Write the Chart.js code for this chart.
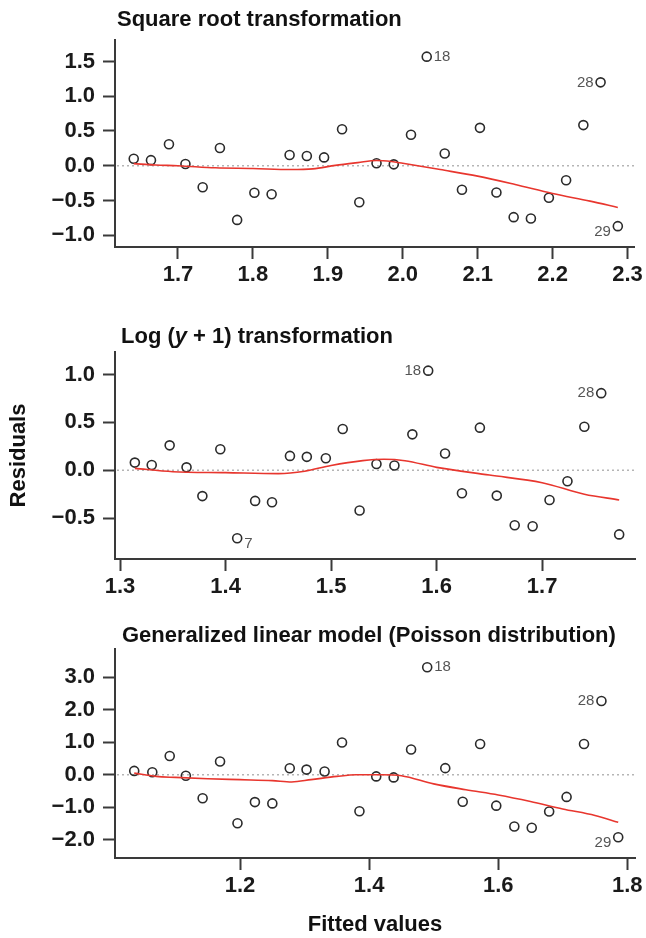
<!DOCTYPE html>
<html>
<head>
<meta charset="utf-8">
<script src="https://cdn.jsdelivr.net/npm/chart.js@4.4.1/dist/chart.umd.min.js"></script>
<style>
  body { margin: 0; background: #fff; }
  .panel { position: absolute; left: 0; width: 646px; }
</style>
</head>
<body>
<div class="panel" style="top:0;height:300px"><canvas id="sqrtChart"></canvas></div>
<div class="panel" style="top:300px;height:310px"><canvas id="logChart"></canvas></div>
<div class="panel" style="top:610px;height:328px"><canvas id="glmChart"></canvas></div>
<script>
const sqrtFitted = [1.641, 1.664, 1.688, 1.710, 1.733, 1.756, 1.779, 1.802, 1.825, 1.849, 1.872, 1.895, 1.919, 1.942, 1.965, 1.988, 2.011, 2.032, 2.056, 2.079, 2.103, 2.125, 2.148, 2.171, 2.195, 2.218, 2.241, 2.264, 2.287];
const sqrtResid = [0.10, 0.08, 0.31, 0.025, -0.31, 0.255, -0.78, -0.39, -0.41, 0.155, 0.14, 0.12, 0.525, -0.525, 0.035, 0.02, 0.445, 1.57, 0.175, -0.345, 0.545, -0.385, -0.74, -0.76, -0.46, -0.21, 0.585, 1.20, -0.87];
const sqrtSmoothX = [1.641, 1.67, 1.70, 1.75, 1.80, 1.85, 1.88, 1.91, 1.94, 1.965, 1.985, 2.00, 2.02, 2.05, 2.10, 2.15, 2.20, 2.25, 2.287];
const sqrtSmoothY = [0.03, 0.01, 0.0, -0.03, -0.04, -0.055, -0.045, 0.005, 0.045, 0.075, 0.06, 0.035, 0.0, -0.055, -0.15, -0.27, -0.40, -0.51, -0.60];
const sqrtXTicks = [1.7, 1.8, 1.9, 2.0, 2.1, 2.2, 2.3];
const sqrtYTicks = [-1.0, -0.5, 0.0, 0.5, 1.0, 1.5];
const sqrtFlagged = [18, 28, 29];

const logFitted = [1.314, 1.330, 1.347, 1.363, 1.378, 1.395, 1.411, 1.428, 1.444, 1.461, 1.477, 1.495, 1.511, 1.527, 1.543, 1.560, 1.577, 1.592, 1.608, 1.624, 1.641, 1.657, 1.674, 1.691, 1.707, 1.724, 1.740, 1.756, 1.773];
const logResid = [0.08, 0.055, 0.26, 0.03, -0.27, 0.22, -0.71, -0.32, -0.335, 0.15, 0.14, 0.125, 0.43, -0.42, 0.065, 0.05, 0.375, 1.04, 0.175, -0.24, 0.445, -0.265, -0.575, -0.585, -0.31, -0.115, 0.455, 0.805, -0.67];
const logSmoothX = [1.314, 1.35, 1.40, 1.45, 1.475, 1.50, 1.53, 1.55, 1.57, 1.60, 1.65, 1.70, 1.74, 1.773];
const logSmoothY = [0.02, -0.015, -0.025, -0.035, -0.01, 0.05, 0.10, 0.115, 0.10, 0.03, -0.05, -0.13, -0.25, -0.31];
const logXTicks = [1.3, 1.4, 1.5, 1.6, 1.7];
const logYTicks = [-0.5, 0.0, 0.5, 1.0];
const logFlagged = [7, 18, 28];

const glmFitted = [1.036, 1.064, 1.091, 1.116, 1.142, 1.169, 1.196, 1.223, 1.250, 1.277, 1.303, 1.331, 1.358, 1.385, 1.411, 1.438, 1.465, 1.490, 1.518, 1.545, 1.572, 1.597, 1.625, 1.652, 1.679, 1.706, 1.733, 1.760, 1.786];
const glmResid = [0.12, 0.08, 0.58, -0.03, -0.72, 0.41, -1.49, -0.84, -0.88, 0.20, 0.16, 0.10, 0.995, -1.12, -0.05, -0.08, 0.78, 3.31, 0.205, -0.83, 0.945, -0.95, -1.59, -1.63, -1.13, -0.68, 0.945, 2.27, -1.92];
const glmSmoothX = [1.036, 1.07, 1.10, 1.15, 1.20, 1.25, 1.28, 1.31, 1.35, 1.38, 1.42, 1.45, 1.50, 1.55, 1.60, 1.65, 1.70, 1.75, 1.786];
const glmSmoothY = [0.05, -0.05, -0.08, -0.12, -0.15, -0.18, -0.22, -0.15, -0.05, 0.0, 0.0, -0.03, -0.28, -0.46, -0.62, -0.82, -1.05, -1.25, -1.46];
const glmXTicks = [1.2, 1.4, 1.6, 1.8];
const glmYTicks = [-2.0, -1.0, 0.0, 1.0, 2.0, 3.0];
const glmFlagged = [18, 28, 29];

const FONT = "'Liberation Sans', Arial, Helvetica, sans-serif";
const axisColor = '#3a3a3a';
Chart.defaults.font.family = FONT;

function fmt(v) {
  return (v < 0 ? '\u2212' : '') + Math.abs(v).toFixed(1);
}

// bold panel heading, may contain italic parts
const panelTitle = {
  id: 'panelTitle',
  afterDraw(chart, args, opts) {
    const ctx = chart.ctx;
    let x = chart.chartArea.left + opts.dx;
    ctx.save();
    ctx.fillStyle = '#111';
    ctx.textBaseline = 'middle';
    ctx.textAlign = 'left';
    opts.parts.forEach(p => {
      ctx.font = (p.italic ? 'italic ' : '') + 'bold 22px ' + FONT;
      ctx.fillText(p.text, x, opts.y);
      x += ctx.measureText(p.text).width;
    });
    ctx.restore();
  }
};

// dotted reference line at residual = 0
const zeroLine = {
  id: 'zeroLine',
  beforeDatasetsDraw(chart) {
    const { ctx, chartArea, scales } = chart;
    const y = scales.y.getPixelForValue(0);
    ctx.save();
    ctx.strokeStyle = '#b5b5b5';
    ctx.lineWidth = 1.5;
    ctx.setLineDash([2, 3]);
    ctx.beginPath();
    ctx.moveTo(chartArea.left + 2, y);
    ctx.lineTo(chartArea.right, y);
    ctx.stroke();
    ctx.restore();
  }
};

// observation numbers next to the flagged points
const obsLabels = {
  id: 'obsLabels',
  afterDatasetsDraw(chart, args, opts) {
    const ctx = chart.ctx;
    const meta = chart.getDatasetMeta(1);
    ctx.save();
    ctx.font = '15px ' + FONT;
    ctx.fillStyle = '#555';
    ctx.textBaseline = 'middle';
    opts.ids.forEach(id => {
      const pt = meta.data[id - 1];
      const side = opts.sides[id];
      const left = side.startsWith('left');
      const dy = side.endsWith('Below') ? 6 : 0;
      ctx.textAlign = left ? 'right' : 'left';
      ctx.fillText(String(id), pt.x + (left ? -7 : 7), pt.y + dy);
    });
    ctx.restore();
  }
};

function makePanel(id, p) {
  const points = p.fitted.map((x, i) => ({ x: x, y: p.resid[i] }));
  const smooth = p.smoothX.map((x, i) => ({ x: x, y: p.smoothY[i] }));
  const tickFont = { size: 22, weight: 'bold' };
  return new Chart(document.getElementById(id), {
    type: 'scatter',
    data: {
      datasets: [{
        data: smooth,
        showLine: true,
        borderColor: '#e8362e',
        borderWidth: 1.6,
        pointRadius: 0,
        cubicInterpolationMode: 'monotone',
        order: 0
      }, {
        data: points,
        pointStyle: 'circle',
        pointRadius: 4.5,
        pointBorderWidth: 1.6,
        pointBorderColor: '#2b2b2b',
        pointBackgroundColor: 'rgba(0,0,0,0)',
        order: 1
      }]
    },
    plugins: [zeroLine, obsLabels, panelTitle],
    options: {
      responsive: true,
      maintainAspectRatio: false,
      animation: false,
      events: [],
      layout: { padding: { top: p.padTop, bottom: p.padBottom, left: 0, right: 11 } },
      plugins: {
        legend: { display: false },
        tooltip: { enabled: false },
        panelTitle: { parts: p.title, dx: p.titleDx, y: p.titleY },
        obsLabels: { ids: p.flagged, sides: p.sides }
      },
      scales: {
        x: {
          type: 'linear',
          min: p.xMin,
          max: p.xMax,
          bounds: 'data',
          afterBuildTicks: s => { s.ticks = p.xTicks.map(v => ({ value: v })); },
          afterFit: s => { s.height = p.xHeight; },
          ticks: { callback: v => fmt(v), font: tickFont, color: '#1a1a1a', padding: 3, maxRotation: 0, autoSkip: false },
          grid: { drawOnChartArea: false, tickLength: 12, tickWidth: 2, tickColor: axisColor, color: axisColor },
          border: { color: axisColor, width: 2 },
          title: p.xTitle ? { display: true, text: p.xTitle, font: tickFont, color: '#111', padding: { top: 0, bottom: 0 } } : { display: false }
        },
        y: {
          type: 'linear',
          min: p.yMin,
          max: p.yMax,
          bounds: 'data',
          afterBuildTicks: s => { s.ticks = p.yTicks.map(v => ({ value: v })); },
          afterFit: s => { s.width = 115; },
          ticks: { callback: v => fmt(v), font: tickFont, color: '#1a1a1a', padding: 8, autoSkip: false },
          grid: { drawOnChartArea: false, tickLength: 12, tickWidth: 2, tickColor: axisColor, color: axisColor },
          border: { color: axisColor, width: 2 },
          title: p.yTitle ? { display: true, text: p.yTitle, font: tickFont, color: '#111', padding: { top: 6, bottom: 0 } } : { display: false }
        }
      }
    }
  });
}

makePanel('sqrtChart', {
  fitted: sqrtFitted, resid: sqrtResid, smoothX: sqrtSmoothX, smoothY: sqrtSmoothY,
  xTicks: sqrtXTicks, yTicks: sqrtYTicks, flagged: sqrtFlagged,
  sides: { 18: 'right', 28: 'left', 29: 'leftBelow' },
  xMin: 1.616, xMax: 2.309, yMin: -1.17, yMax: 1.81,
  padTop: 40, padBottom: 11, xHeight: 42,
  title: [{ text: 'Square root transformation' }], titleDx: 2, titleY: 20
});

makePanel('logChart', {
  fitted: logFitted, resid: logResid, smoothX: logSmoothX, smoothY: logSmoothY,
  xTicks: logXTicks, yTicks: logYTicks, flagged: logFlagged,
  sides: { 7: 'rightBelow', 18: 'left', 28: 'left' },
  xMin: 1.2952, xMax: 1.788, yMin: -0.927, yMax: 1.235,
  padTop: 52, padBottom: 9, xHeight: 42,
  yTitle: 'Residuals',
  title: [{ text: 'Log (' }, { text: 'y', italic: true }, { text: ' + 1) transformation' }], titleDx: 6, titleY: 37
});

makePanel('glmChart', {
  fitted: glmFitted, resid: glmResid, smoothX: glmSmoothX, smoothY: glmSmoothY,
  xTicks: glmXTicks, yTicks: glmYTicks, flagged: glmFlagged,
  sides: { 18: 'right', 28: 'left', 29: 'leftBelow' },
  xMin: 1.0062, xMax: 1.812, yMin: -2.56, yMax: 3.87,
  padTop: 39, padBottom: 0, xHeight: 80,
  xTitle: 'Fitted values',
  title: [{ text: 'Generalized linear model (Poisson distribution)' }], titleDx: 7, titleY: 26
});
</script>
</body>
</html>
